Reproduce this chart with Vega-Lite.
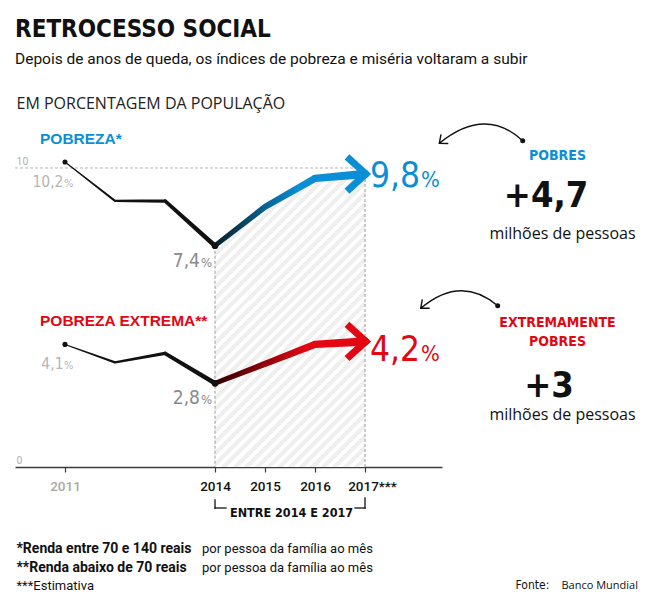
{
"$schema": "https://vega.github.io/schema/vega-lite/v6.json",
"width": 427,
"height": 327,
"autosize": {"type": "none"},
"padding": {"left": 15, "top": 140, "right": 208, "bottom": 135},
"background": "#ffffff",
"config": {"view": {"stroke": null}, "locale": {"number": {"decimal": ",", "thousands": ".", "grouping": [3], "currency": ["R$", ""]}}},
"title": {"text": "RETROCESSO SOCIAL", "subtitle": "Depois de anos de queda, os índices de pobreza e miséria voltaram a subir", "anchor": "start", "frame": "group", "font": "DejaVu Sans Condensed", "fontSize": 24, "fontWeight": "bold", "color": "#111111", "subtitleFont": "Roboto", "subtitleFontSize": 15.5, "subtitleColor": "#111111", "subtitlePadding": 10, "offset": 28},
"datasets": {
"dados": [
{"serie": "Pobreza", "ano": 2011, "pct": 10.2},
{"serie": "Pobreza", "ano": 2012, "pct": 8.9},
{"serie": "Pobreza", "ano": 2013, "pct": 8.9},
{"serie": "Pobreza", "ano": 2014, "pct": 7.4},
{"serie": "Pobreza", "ano": 2015, "pct": 8.7},
{"serie": "Pobreza", "ano": 2016, "pct": 9.65},
{"serie": "Pobreza", "ano": 2017, "pct": 9.8},
{"serie": "Extrema", "ano": 2011, "pct": 4.1},
{"serie": "Extrema", "ano": 2012, "pct": 3.5},
{"serie": "Extrema", "ano": 2013, "pct": 3.8},
{"serie": "Extrema", "ano": 2014, "pct": 2.8},
{"serie": "Extrema", "ano": 2015, "pct": 3.45},
{"serie": "Extrema", "ano": 2016, "pct": 4.1},
{"serie": "Extrema", "ano": 2017, "pct": 4.2}
],
"series": [
{"serie": "Pobreza", "rotulo": "POBREZA*", "grupo": "POBRES", "variacao": "+4,7", "unidade": "milhões de pessoas"},
{"serie": "Extrema", "rotulo": "POBREZA EXTREMA**", "grupo": "EXTREMAMENTE\nPOBRES", "variacao": "+3", "unidade": "milhões de pessoas"}
]
},
"encoding": {
"x": {"field": "ano", "type": "quantitative", "scale": {"domain": [2010, 2018.54], "nice": false, "zero": false},
 "axis": {"title": null, "values": [2011, 2014, 2015, 2016, 2017], "format": "d", "grid": false, "domainColor": "#3a3a3a", "domainWidth": 1.3, "tickColor": "#3a3a3a", "tickWidth": 1.2, "tickSize": 5, "labelFont": "Roboto", "labelFontSize": 13.5, "labelFontWeight": 500, "labelColor": {"condition": {"test": "datum.value == 2011", "value": "#a8a8a8"}, "value": "#111111"}, "labelOffset": {"condition": {"test": "datum.value == 2017", "value": 7}, "value": 0}, "labelExpr": "datum.value == 2017 ? '2017***' : datum.label", "labelPadding": 18, "labelBaseline": "alphabetic", "labelOverlap": false, "labelFlush": false}},
"y": {"field": "pct", "type": "quantitative", "scale": {"domain": [0, 10.936], "nice": false, "zero": true},
 "axis": {"title": "EM PORCENTAGEM DA POPULAÇÃO", "titleAngle": 0, "titleAlign": "left", "titleBaseline": "alphabetic", "titleX": 1, "titleY": -32, "titleFont": "Open Sans", "titleFontSize": 16, "titleFontWeight": "normal", "titleColor": "#222222", "titlePadding": 0, "values": [0, 10], "domain": false, "ticks": false, "tickSize": 0, "grid": false, "labelAlign": "left", "labelBaseline": "alphabetic", "labelPadding": -1, "labelOffset": -3.5, "labelColor": "#b0b0b0", "labelFont": "Roboto", "labelFontSize": 10.5}}
},
"layer": [
{"data": {"name": "dados"}, "transform": [{"filter": "datum.serie == 'Pobreza' && datum.ano >= 2014"}],
 "mark": {"type": "area", "color": {"gradient": "linear", "x1": 0, "y1": 0, "x2": 0.613, "y2": 1.198, "stops": [
{"offset": 0, "color": "#efefef"}, {"offset": 0.0135, "color": "#efefef"}, {"offset": 0.0135, "color": "#ffffff"}, {"offset": 0.025, "color": "#ffffff"},
{"offset": 0.025, "color": "#efefef"}, {"offset": 0.0385, "color": "#efefef"}, {"offset": 0.0385, "color": "#ffffff"}, {"offset": 0.05, "color": "#ffffff"},
{"offset": 0.05, "color": "#efefef"}, {"offset": 0.0635, "color": "#efefef"}, {"offset": 0.0635, "color": "#ffffff"}, {"offset": 0.075, "color": "#ffffff"},
{"offset": 0.075, "color": "#efefef"}, {"offset": 0.0885, "color": "#efefef"}, {"offset": 0.0885, "color": "#ffffff"}, {"offset": 0.1, "color": "#ffffff"},
{"offset": 0.1, "color": "#efefef"}, {"offset": 0.1135, "color": "#efefef"}, {"offset": 0.1135, "color": "#ffffff"}, {"offset": 0.125, "color": "#ffffff"},
{"offset": 0.125, "color": "#efefef"}, {"offset": 0.1385, "color": "#efefef"}, {"offset": 0.1385, "color": "#ffffff"}, {"offset": 0.15, "color": "#ffffff"},
{"offset": 0.15, "color": "#efefef"}, {"offset": 0.1635, "color": "#efefef"}, {"offset": 0.1635, "color": "#ffffff"}, {"offset": 0.175, "color": "#ffffff"},
{"offset": 0.175, "color": "#efefef"}, {"offset": 0.1885, "color": "#efefef"}, {"offset": 0.1885, "color": "#ffffff"}, {"offset": 0.2, "color": "#ffffff"},
{"offset": 0.2, "color": "#efefef"}, {"offset": 0.2135, "color": "#efefef"}, {"offset": 0.2135, "color": "#ffffff"}, {"offset": 0.225, "color": "#ffffff"},
{"offset": 0.225, "color": "#efefef"}, {"offset": 0.2385, "color": "#efefef"}, {"offset": 0.2385, "color": "#ffffff"}, {"offset": 0.25, "color": "#ffffff"},
{"offset": 0.25, "color": "#efefef"}, {"offset": 0.2635, "color": "#efefef"}, {"offset": 0.2635, "color": "#ffffff"}, {"offset": 0.275, "color": "#ffffff"},
{"offset": 0.275, "color": "#efefef"}, {"offset": 0.2885, "color": "#efefef"}, {"offset": 0.2885, "color": "#ffffff"}, {"offset": 0.3, "color": "#ffffff"},
{"offset": 0.3, "color": "#efefef"}, {"offset": 0.3135, "color": "#efefef"}, {"offset": 0.3135, "color": "#ffffff"}, {"offset": 0.325, "color": "#ffffff"},
{"offset": 0.325, "color": "#efefef"}, {"offset": 0.3385, "color": "#efefef"}, {"offset": 0.3385, "color": "#ffffff"}, {"offset": 0.35, "color": "#ffffff"},
{"offset": 0.35, "color": "#efefef"}, {"offset": 0.3635, "color": "#efefef"}, {"offset": 0.3635, "color": "#ffffff"}, {"offset": 0.375, "color": "#ffffff"},
{"offset": 0.375, "color": "#efefef"}, {"offset": 0.3885, "color": "#efefef"}, {"offset": 0.3885, "color": "#ffffff"}, {"offset": 0.4, "color": "#ffffff"},
{"offset": 0.4, "color": "#efefef"}, {"offset": 0.4135, "color": "#efefef"}, {"offset": 0.4135, "color": "#ffffff"}, {"offset": 0.425, "color": "#ffffff"},
{"offset": 0.425, "color": "#efefef"}, {"offset": 0.4385, "color": "#efefef"}, {"offset": 0.4385, "color": "#ffffff"}, {"offset": 0.45, "color": "#ffffff"},
{"offset": 0.45, "color": "#efefef"}, {"offset": 0.4635, "color": "#efefef"}, {"offset": 0.4635, "color": "#ffffff"}, {"offset": 0.475, "color": "#ffffff"},
{"offset": 0.475, "color": "#efefef"}, {"offset": 0.4885, "color": "#efefef"}, {"offset": 0.4885, "color": "#ffffff"}, {"offset": 0.5, "color": "#ffffff"},
{"offset": 0.5, "color": "#efefef"}, {"offset": 0.5135, "color": "#efefef"}, {"offset": 0.5135, "color": "#ffffff"}, {"offset": 0.525, "color": "#ffffff"},
{"offset": 0.525, "color": "#efefef"}, {"offset": 0.5385, "color": "#efefef"}, {"offset": 0.5385, "color": "#ffffff"}, {"offset": 0.55, "color": "#ffffff"},
{"offset": 0.55, "color": "#efefef"}, {"offset": 0.5635, "color": "#efefef"}, {"offset": 0.5635, "color": "#ffffff"}, {"offset": 0.575, "color": "#ffffff"},
{"offset": 0.575, "color": "#efefef"}, {"offset": 0.5885, "color": "#efefef"}, {"offset": 0.5885, "color": "#ffffff"}, {"offset": 0.6, "color": "#ffffff"},
{"offset": 0.6, "color": "#efefef"}, {"offset": 0.6135, "color": "#efefef"}, {"offset": 0.6135, "color": "#ffffff"}, {"offset": 0.625, "color": "#ffffff"},
{"offset": 0.625, "color": "#efefef"}, {"offset": 0.6385, "color": "#efefef"}, {"offset": 0.6385, "color": "#ffffff"}, {"offset": 0.65, "color": "#ffffff"},
{"offset": 0.65, "color": "#efefef"}, {"offset": 0.6635, "color": "#efefef"}, {"offset": 0.6635, "color": "#ffffff"}, {"offset": 0.675, "color": "#ffffff"},
{"offset": 0.675, "color": "#efefef"}, {"offset": 0.6885, "color": "#efefef"}, {"offset": 0.6885, "color": "#ffffff"}, {"offset": 0.7, "color": "#ffffff"},
{"offset": 0.7, "color": "#efefef"}, {"offset": 0.7135, "color": "#efefef"}, {"offset": 0.7135, "color": "#ffffff"}, {"offset": 0.725, "color": "#ffffff"},
{"offset": 0.725, "color": "#efefef"}, {"offset": 0.7385, "color": "#efefef"}, {"offset": 0.7385, "color": "#ffffff"}, {"offset": 0.75, "color": "#ffffff"},
{"offset": 0.75, "color": "#efefef"}, {"offset": 0.7635, "color": "#efefef"}, {"offset": 0.7635, "color": "#ffffff"}, {"offset": 0.775, "color": "#ffffff"},
{"offset": 0.775, "color": "#efefef"}, {"offset": 0.7885, "color": "#efefef"}, {"offset": 0.7885, "color": "#ffffff"}, {"offset": 0.8, "color": "#ffffff"},
{"offset": 0.8, "color": "#efefef"}, {"offset": 0.8135, "color": "#efefef"}, {"offset": 0.8135, "color": "#ffffff"}, {"offset": 0.825, "color": "#ffffff"},
{"offset": 0.825, "color": "#efefef"}, {"offset": 0.8385, "color": "#efefef"}, {"offset": 0.8385, "color": "#ffffff"}, {"offset": 0.85, "color": "#ffffff"},
{"offset": 0.85, "color": "#efefef"}, {"offset": 0.8635, "color": "#efefef"}, {"offset": 0.8635, "color": "#ffffff"}, {"offset": 0.875, "color": "#ffffff"},
{"offset": 0.875, "color": "#efefef"}, {"offset": 0.8885, "color": "#efefef"}, {"offset": 0.8885, "color": "#ffffff"}, {"offset": 0.9, "color": "#ffffff"},
{"offset": 0.9, "color": "#efefef"}, {"offset": 0.9135, "color": "#efefef"}, {"offset": 0.9135, "color": "#ffffff"}, {"offset": 0.925, "color": "#ffffff"},
{"offset": 0.925, "color": "#efefef"}, {"offset": 0.9385, "color": "#efefef"}, {"offset": 0.9385, "color": "#ffffff"}, {"offset": 0.95, "color": "#ffffff"},
{"offset": 0.95, "color": "#efefef"}, {"offset": 0.9635, "color": "#efefef"}, {"offset": 0.9635, "color": "#ffffff"}, {"offset": 0.975, "color": "#ffffff"},
{"offset": 0.975, "color": "#efefef"}, {"offset": 0.9885, "color": "#efefef"}, {"offset": 0.9885, "color": "#ffffff"}, {"offset": 1, "color": "#ffffff"}
 ]}},
 "encoding": {"y2": {"datum": 0}}},
{"data": {"name": "dados"}, "transform": [{"filter": "datum.serie == 'Pobreza' && (datum.ano == 2014 || datum.ano == 2017)"}],
 "mark": {"type": "rule", "color": "#9a9a9a", "strokeWidth": 1, "strokeDash": [3, 2]},
 "encoding": {"y2": {"datum": 0}}},
{"data": {"name": "dados"}, "transform": [{"filter": "datum.serie == 'Pobreza' && datum.ano == 2017"}],
 "mark": {"type": "rule", "color": "#b5b5b5", "strokeWidth": 1, "strokeDash": [3, 2]},
 "encoding": {"x": {"datum": 2010, "type": "quantitative"}, "x2": {"field": "ano"}, "y": {"datum": 10, "type": "quantitative"}}},
{"data": {"name": "dados"}, "transform": [{"filter": "datum.ano <= 2014"}],
 "mark": {"type": "trail", "color": "#111111"},
 "encoding": {"detail": {"field": "serie"}, "size": {"field": "ano", "type": "quantitative", "scale": {"domain": [2011, 2017], "range": [1, 8.5]}, "legend": null}}},
{"data": {"name": "dados"}, "transform": [{"filter": "datum.serie == 'Pobreza' && datum.ano >= 2014"}],
 "mark": {"type": "trail", "color": {"gradient": "linear", "x1": 0, "y1": 0, "x2": 1, "y2": 0, "stops": [{"offset": 0, "color": "#081a24"}, {"offset": 0.55, "color": "#0a8fd6"}, {"offset": 1, "color": "#0a8fd6"}]}},
 "encoding": {"size": {"field": "ano", "type": "quantitative", "scale": {"domain": [2011, 2017], "range": [1, 8.5]}, "legend": null}}},
{"data": {"name": "dados"}, "transform": [{"filter": "datum.serie == 'Extrema' && datum.ano >= 2014"}],
 "mark": {"type": "trail", "color": {"gradient": "linear", "x1": 0, "y1": 0, "x2": 1, "y2": 0, "stops": [{"offset": 0, "color": "#2a0000"}, {"offset": 0.6, "color": "#e30613"}, {"offset": 1, "color": "#e30613"}]}},
 "encoding": {"size": {"field": "ano", "type": "quantitative", "scale": {"domain": [2011, 2017], "range": [1, 8.5]}, "legend": null}}},
{"data": {"name": "dados"}, "transform": [{"filter": "datum.ano == 2011"}],
 "mark": {"type": "point", "filled": true, "color": "#111111", "size": 26, "opacity": 1}},
{"data": {"name": "dados"}, "transform": [{"filter": "datum.ano == 2014"}],
 "mark": {"type": "point", "filled": true, "color": "#111111", "size": 45, "opacity": 1}},
{"data": {"name": "dados"}, "transform": [{"filter": "datum.ano == 2017"}],
 "mark": {"type": "point", "shape": "M -1 -0.95 L 0.05 0 L -1 0.95", "filled": false, "size": 1296, "strokeWidth": 7, "strokeJoin": "miter", "strokeCap": "butt", "opacity": 1},
 "encoding": {"color": {"field": "serie", "type": "nominal", "scale": {"domain": ["Pobreza", "Extrema"], "range": ["#0a8fd6", "#e30613"]}, "legend": null}}},
{"data": {"name": "dados"}, "transform": [{"filter": "datum.ano == 2017"}],
 "mark": {"type": "point", "filled": false, "size": 40000, "strokeWidth": 1.4, "color": "#111111", "opacity": 1},
 "encoding": {"shape": {"field": "serie", "type": "nominal", "scale": {"domain": ["Pobreza", "Extrema"], "range": [
 "M 1.577 -0.333 Q 1.2 -0.68 0.743 -0.307 M 0.76 -0.395 L 0.743 -0.307 L 0.833 -0.305 M 1.559 -0.333 A 0.018 0.018 0 1 0 1.595 -0.333 A 0.018 0.018 0 1 0 1.559 -0.333 M 1.568 -0.333 A 0.009 0.009 0 1 0 1.586 -0.333 A 0.009 0.009 0 1 0 1.568 -0.333",
 "M 1.327 -0.357 Q 0.958 -0.67 0.557 -0.331 M 0.573 -0.42 L 0.557 -0.331 L 0.647 -0.331 M 1.309 -0.357 A 0.018 0.018 0 1 0 1.345 -0.357 A 0.018 0.018 0 1 0 1.309 -0.357 M 1.318 -0.357 A 0.009 0.009 0 1 0 1.336 -0.357 A 0.009 0.009 0 1 0 1.318 -0.357"
 ]}, "legend": null}}},
{"data": {"name": "dados"}, "transform": [{"filter": "datum.ano == 2011"}],
 "mark": {"type": "text", "align": "right", "baseline": "alphabetic", "dx": -1.5, "dy": 25, "font": "DejaVu Sans Condensed", "fontSize": 15.5, "color": "#b5b5b5"},
 "encoding": {"text": {"field": "pct", "type": "quantitative", "format": ".1f"}}},
{"data": {"name": "dados"}, "transform": [{"filter": "datum.ano == 2011"}],
 "mark": {"type": "text", "text": "%", "align": "left", "baseline": "alphabetic", "dx": -1, "dy": 25, "font": "DejaVu Sans Condensed", "fontSize": 11, "color": "#b5b5b5"}},
{"data": {"name": "dados"}, "transform": [{"filter": "datum.ano == 2014"}],
 "mark": {"type": "text", "align": "right", "baseline": "alphabetic", "dx": -15, "dy": 21, "font": "DejaVu Sans Condensed", "fontSize": 19, "color": "#8a8a8a"},
 "encoding": {"text": {"field": "pct", "type": "quantitative", "format": ".1f"}}},
{"data": {"name": "dados"}, "transform": [{"filter": "datum.ano == 2014"}],
 "mark": {"type": "text", "text": "%", "align": "left", "baseline": "alphabetic", "dx": -14, "dy": 21, "font": "DejaVu Sans Condensed", "fontSize": 13, "color": "#8a8a8a"}},
{"data": {"name": "dados"}, "transform": [{"filter": "datum.serie == 'Pobreza' && datum.ano == 2017"}],
 "mark": {"type": "text", "align": "right", "baseline": "alphabetic", "dx": 55, "dy": 13, "font": "DejaVu Sans Condensed", "fontSize": 35, "color": "#0a8fd6"},
 "encoding": {"text": {"field": "pct", "type": "quantitative", "format": ".1f"}}},
{"data": {"name": "dados"}, "transform": [{"filter": "datum.serie == 'Pobreza' && datum.ano == 2017"}],
 "mark": {"type": "text", "text": "%", "align": "left", "baseline": "alphabetic", "dx": 56, "dy": 13, "font": "DejaVu Sans Condensed", "fontSize": 22, "color": "#0a8fd6"}},
{"data": {"name": "dados"}, "transform": [{"filter": "datum.serie == 'Extrema' && datum.ano == 2017"}],
 "mark": {"type": "text", "align": "right", "baseline": "alphabetic", "dx": 55, "dy": 20, "font": "DejaVu Sans Condensed", "fontSize": 35, "color": "#e30613"},
 "encoding": {"text": {"field": "pct", "type": "quantitative", "format": ".1f"}}},
{"data": {"name": "dados"}, "transform": [{"filter": "datum.serie == 'Extrema' && datum.ano == 2017"}],
 "mark": {"type": "text", "text": "%", "align": "left", "baseline": "alphabetic", "dx": 56, "dy": 20, "font": "DejaVu Sans Condensed", "fontSize": 22, "color": "#e30613"}},
{"data": {"name": "dados"}, "transform": [{"filter": "datum.ano == 2011"}, {"lookup": "serie", "from": {"data": {"name": "series"}, "key": "serie", "fields": ["rotulo"]}}],
 "mark": {"type": "text", "align": "left", "baseline": "alphabetic", "dx": -25, "dy": -18, "font": "Liberation Sans", "fontWeight": "bold", "fontSize": 15.5},
 "encoding": {"text": {"field": "rotulo"}, "color": {"field": "serie", "type": "nominal", "scale": {"domain": ["Pobreza", "Extrema"], "range": ["#0a8fd6", "#e30613"]}, "legend": null}}},
{"data": {"name": "dados"}, "transform": [{"filter": "datum.ano == 2017"}, {"lookup": "serie", "from": {"data": {"name": "series"}, "key": "serie", "fields": ["grupo"]}}],
 "mark": {"type": "text", "align": "center", "baseline": "alphabetic", "dx": 192.5, "dy": -14, "lineBreak": "\n", "lineHeight": 18.4, "font": "DejaVu Sans Condensed", "fontWeight": "bold", "fontSize": 14, "color": "#111111"},
 "encoding": {"text": {"field": "grupo"}, "color": {"field": "serie", "type": "nominal", "scale": {"domain": ["Pobreza", "Extrema"], "range": ["#0a8fd6", "#e30613"]}, "legend": null}}},
{"data": {"name": "dados"}, "transform": [{"filter": "datum.serie == 'Pobreza' && datum.ano == 2017"}, {"lookup": "serie", "from": {"data": {"name": "series"}, "key": "serie", "fields": ["variacao", "unidade"]}}],
 "mark": {"type": "text", "align": "center", "baseline": "alphabetic", "dx": 181, "dy": 33, "font": "DejaVu Sans Condensed", "fontWeight": "bold", "fontSize": 36, "color": "#111111"},
 "encoding": {"text": {"field": "variacao"}}},
{"data": {"name": "dados"}, "transform": [{"filter": "datum.serie == 'Pobreza' && datum.ano == 2017"}, {"lookup": "serie", "from": {"data": {"name": "series"}, "key": "serie", "fields": ["variacao", "unidade"]}}],
 "mark": {"type": "text", "align": "center", "baseline": "alphabetic", "dx": 197.5, "dy": 65, "font": "Open Sans", "fontSize": 16, "color": "#111111"},
 "encoding": {"text": {"field": "unidade"}}},
{"data": {"name": "dados"}, "transform": [{"filter": "datum.serie == 'Extrema' && datum.ano == 2017"}, {"lookup": "serie", "from": {"data": {"name": "series"}, "key": "serie", "fields": ["variacao", "unidade"]}}],
 "mark": {"type": "text", "align": "center", "baseline": "alphabetic", "dx": 184, "dy": 55.3, "font": "DejaVu Sans Condensed", "fontWeight": "bold", "fontSize": 36, "color": "#111111"},
 "encoding": {"text": {"field": "variacao"}}},
{"data": {"name": "dados"}, "transform": [{"filter": "datum.serie == 'Extrema' && datum.ano == 2017"}, {"lookup": "serie", "from": {"data": {"name": "series"}, "key": "serie", "fields": ["variacao", "unidade"]}}],
 "mark": {"type": "text", "align": "center", "baseline": "alphabetic", "dx": 197.5, "dy": 78.6, "font": "Open Sans", "fontSize": 16, "color": "#111111"},
 "encoding": {"text": {"field": "unidade"}}},
{"data": {"name": "dados"}, "transform": [{"filter": "datum.serie == 'Pobreza' && datum.ano == 2014"}],
 "mark": {"type": "rule", "color": "#111111", "strokeWidth": 1.3, "strokeCap": "square", "yOffset": 33, "y2Offset": 41},
 "encoding": {"y": {"datum": 0, "type": "quantitative"}, "y2": {"datum": 0}}},
{"data": {"name": "dados"}, "transform": [{"filter": "datum.serie == 'Pobreza' && datum.ano == 2014"}],
 "mark": {"type": "rule", "color": "#111111", "strokeWidth": 1.3, "strokeCap": "square", "x2Offset": 11, "yOffset": 41},
 "encoding": {"x2": {"field": "ano"}, "y": {"datum": 0, "type": "quantitative"}}},
{"data": {"name": "dados"}, "transform": [{"filter": "datum.serie == 'Pobreza' && datum.ano == 2017"}],
 "mark": {"type": "rule", "color": "#111111", "strokeWidth": 1.3, "strokeCap": "square", "yOffset": 31, "y2Offset": 41},
 "encoding": {"y": {"datum": 0, "type": "quantitative"}, "y2": {"datum": 0}}},
{"data": {"name": "dados"}, "transform": [{"filter": "datum.serie == 'Pobreza' && datum.ano == 2017"}],
 "mark": {"type": "rule", "color": "#111111", "strokeWidth": 1.3, "strokeCap": "square", "xOffset": -10, "yOffset": 41},
 "encoding": {"x2": {"field": "ano"}, "y": {"datum": 0, "type": "quantitative"}}},
{"data": {"name": "dados"}, "transform": [{"filter": "datum.serie == 'Pobreza' && datum.ano == 2014"}],
 "mark": {"type": "text", "text": "ENTRE 2014 E 2017", "align": "left", "baseline": "alphabetic", "dx": 15, "dy": 49.7, "font": "DejaVu Sans Condensed", "fontWeight": "bold", "fontSize": 12.5, "color": "#111111"},
 "encoding": {"y": {"datum": 0, "type": "quantitative"}}},
{"data": {"name": "dados"}, "transform": [{"filter": "datum.serie == 'Pobreza' && datum.ano == 2011"}],
 "mark": {"type": "text", "text": ["*Renda entre 70 e 140 reais", "**Renda abaixo de 70 reais"], "align": "left", "baseline": "alphabetic", "dx": 1.5, "dy": 86, "lineHeight": 18.5, "font": "Roboto", "fontWeight": "bold", "fontSize": 14, "color": "#111111"},
 "encoding": {"x": {"datum": 2010, "type": "quantitative"}, "y": {"datum": 0, "type": "quantitative"}}},
{"data": {"name": "dados"}, "transform": [{"filter": "datum.serie == 'Pobreza' && datum.ano == 2011"}],
 "mark": {"type": "text", "text": ["por pessoa da família ao mês", "por pessoa da família ao mês"], "align": "left", "baseline": "alphabetic", "dx": 187, "dy": 86, "lineHeight": 18.5, "font": "Roboto", "fontSize": 13, "color": "#111111"},
 "encoding": {"x": {"datum": 2010, "type": "quantitative"}, "y": {"datum": 0, "type": "quantitative"}}},
{"data": {"name": "dados"}, "transform": [{"filter": "datum.serie == 'Pobreza' && datum.ano == 2011"}],
 "mark": {"type": "text", "text": "***Estimativa", "align": "left", "baseline": "alphabetic", "dx": 1.5, "dy": 123, "font": "Roboto", "fontSize": 13, "color": "#111111"},
 "encoding": {"x": {"datum": 2010, "type": "quantitative"}, "y": {"datum": 0, "type": "quantitative"}}},
{"data": {"name": "dados"}, "transform": [{"filter": "datum.serie == 'Pobreza' && datum.ano == 2011"}],
 "mark": {"type": "text", "text": "Fonte:", "align": "right", "baseline": "alphabetic", "dx": 534.3, "dy": 122, "font": "DejaVu Sans Condensed", "fontSize": 12, "color": "#111111"},
 "encoding": {"x": {"datum": 2010, "type": "quantitative"}, "y": {"datum": 0, "type": "quantitative"}}},
{"data": {"name": "dados"}, "transform": [{"filter": "datum.serie == 'Pobreza' && datum.ano == 2011"}],
 "mark": {"type": "text", "text": "Banco Mundial", "align": "right", "baseline": "alphabetic", "dx": 623, "dy": 122, "font": "Open Sans", "fontSize": 11, "color": "#111111"},
 "encoding": {"x": {"datum": 2010, "type": "quantitative"}, "y": {"datum": 0, "type": "quantitative"}}}
]
}
